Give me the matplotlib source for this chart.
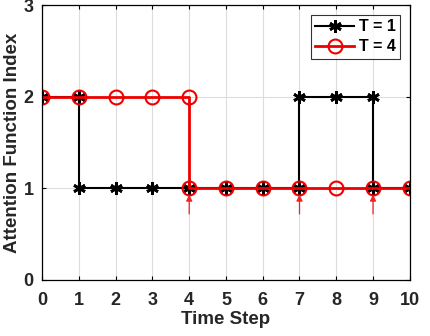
import matplotlib
matplotlib.use("Agg")
import matplotlib.pyplot as plt

# T = 1 sequence (duplicated x marks the jumps)
t1_x = [0, 1, 1, 2, 3, 4, 5, 6, 7, 7, 8, 9, 9, 10]
t1_y = [2, 2, 1, 1, 1, 1, 1, 1, 1, 2, 2, 2, 1, 1]

# T = 4 sequence
t4_x = [0, 1, 2, 3, 4, 4, 5, 6, 7, 8, 9, 10]
t4_y = [2, 2, 2, 2, 2, 1, 1, 1, 1, 1, 1, 1]

# arrows marking the switch points
arrow_x = [4, 7, 9]
arrow_from = 0.72
arrow_to = 0.93

xticks = list(range(0, 11))
yticks = [0, 1, 2, 3]

plt.rcParams['font.family'] = ['Liberation Sans', 'DejaVu Sans']
plt.rcParams['font.weight'] = 'bold'

fig = plt.figure(figsize=(4.3, 3.36), dpi=100)
ax = fig.add_axes([0.098, 0.167, 0.855, 0.818])

ax.plot(t1_x, t1_y, color='black', lw=1.5, marker=(6, 2, 0), ms=9,
        mew=2, label='T = 1')
ax.plot(t4_x, t4_y, color='#ee0000', lw=2, marker='o', ms=10, mfc='none',
        mew=1.5, label='T = 4')

for xa in arrow_x:
    ax.annotate('', xy=(xa, arrow_to), xytext=(xa, arrow_from),
                arrowprops=dict(arrowstyle='-|>', color='#ee2222', lw=0.9,
                                mutation_scale=9, shrinkA=0, shrinkB=0))

ax.set_xlim(0, 10)
ax.set_ylim(0, 3)
ax.set_xticks(xticks)
ax.set_yticks(yticks)
ax.grid(True, color='#dcdcdc', lw=0.8)
ax.set_axisbelow(True)
ax.tick_params(direction='in', top=True, right=True, labelsize=13,
               labelcolor='#262626', length=3)
ax.tick_params(axis='x', pad=9)
ax.tick_params(axis='y', pad=6)
for s in ax.spines.values():
    s.set_linewidth(0.9)

ax.set_xlabel('Time Step', fontsize=13.5, fontweight='bold', color='#262626',
              labelpad=1)
ax.set_ylabel('Attention Function Index', fontsize=13.5, fontweight='bold',
              color='#262626', labelpad=2)

leg = ax.legend(loc='upper right', fontsize=11.5, frameon=True, fancybox=False,
                edgecolor='black', handlelength=2.4, handletextpad=0.3,
                borderpad=0.3, labelspacing=0.3, borderaxespad=0.6)
leg.get_frame().set_linewidth(0.8)

fig.savefig('out.png', dpi=100)
